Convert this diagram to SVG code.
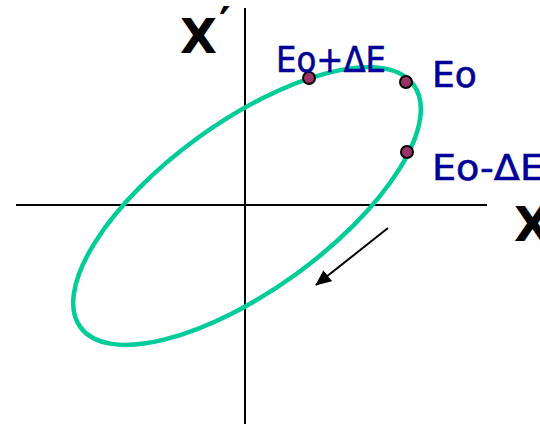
<svg xmlns="http://www.w3.org/2000/svg" width="540" height="424" viewBox="0 0 540 424">
<style>
.axis{stroke:#000;stroke-width:2;fill:none}
.ell{stroke:#00CC99;stroke-width:4.5;fill:none}
.dot{fill:#993366;stroke:#000;stroke-width:2}
.lbl{font-family:"DejaVu Sans","Liberation Sans",sans-serif;font-size:36px;fill:#000099;stroke:#000099;stroke-width:0.6}
.ax{font-family:"DejaVu Sans","Liberation Sans",sans-serif;font-weight:bold;font-size:48px;fill:#000}
</style>
<defs>
<marker id="ah" markerWidth="16" markerHeight="14" refX="15" refY="7" orient="auto" markerUnits="userSpaceOnUse" viewBox="0 0 16 14">
<path d="M0,0 L16,7 L0,14 Z" fill="#000"/>
</marker>
</defs>
<g id="connectors">
<line class="axis" x1="16" y1="205" x2="487" y2="205"/>
<line class="axis" x1="245" y1="8" x2="245" y2="424"/>
<line x1="388" y1="228" x2="316" y2="285" stroke="#000" stroke-width="2" marker-end="url(#ah)"/>
</g>
<g id="ellipse">
<ellipse class="ell" cx="247" cy="206" rx="206" ry="84" transform="rotate(-36 247 206)"/>
</g>
<g id="axis-x-prime"><text class="ax" x="180" y="53">X<tspan dx="2" dy="-14" font-size="44">′</tspan></text></g>
<g id="axis-x"><text class="ax" x="514" y="241">X</text></g>
<g id="p1"><circle class="dot" cx="309" cy="78" r="6"/><text class="lbl" x="276" y="72" textLength="110" lengthAdjust="spacingAndGlyphs">Eo+ΔE</text></g>
<g id="p2"><circle class="dot" cx="406" cy="82" r="6"/><text class="lbl" x="432" y="87">Eo</text></g>
<g id="p3"><circle class="dot" cx="407" cy="152" r="6"/><text class="lbl" x="432" y="180" textLength="112" lengthAdjust="spacingAndGlyphs">Eo-ΔE</text></g>
</svg>
